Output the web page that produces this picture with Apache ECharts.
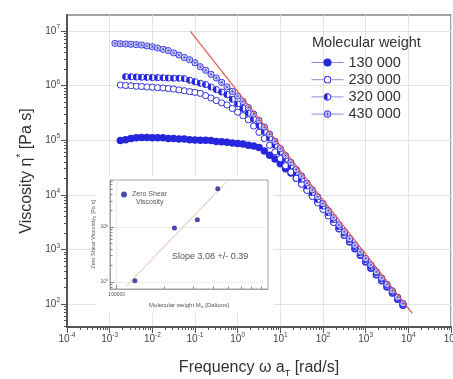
<!DOCTYPE html>
<html><head><meta charset="utf-8">
<script src="https://cdn.jsdelivr.net/npm/echarts@6/dist/echarts.min.js"></script>
<style>html,body{margin:0;padding:0;background:#fff}#c{width:453px;height:379px}</style>
</head><body><div id="c"></div>
<script>
// ---------- data ----------
const frequency = [0.00133, 0.00178, 0.00237, 0.00316, 0.00422, 0.00562, 0.0075,
  0.01, 0.0133, 0.0178, 0.0237, 0.0316, 0.0422, 0.0562, 0.075,
  0.1, 0.133, 0.178, 0.237, 0.316, 0.422, 0.562, 0.75,
  1, 1.33, 1.78, 2.37, 3.16, 4.22, 5.62, 7.5,
  10, 13.3, 17.8, 23.7, 31.6, 42.2, 56.2, 75,
  100, 133, 178, 237, 316, 422, 562, 750,
  1000, 1330, 1780, 2370, 3160, 4220, 5620, 7500];
const eta130k = [null, 9.8e4, 1.02e5, 1.07e5, 1.10e5, 1.12e5, 1.12e5, 1.11e5, 1.10e5, 1.10e5, 1.07e5, 1.07e5, 1.05e5, 1.05e5, 1.02e5, 1.01e5, 1.0e5, 9.9e4, 9.8e4, 9.4e4, 9.3e4, 9.1e4, 8.9e4, 8.7e4, 8.5e4, 8.1e4, 7.8e4, 7.3e4, 6.3e4, 5.3e4, 4.5e4, 3.7e4, 3.0e4, 2.5e4, 2.0e4, 1.59e4, 1.25e4, 9.8e3, 7.7e3, 5.8e3, 4.3e3, 3.2e3, 2.4e3, 1.82e3, 1.36e3, 1.03e3, 780, 590, 450, 344, 267, 206, 159, 123, 95];
const eta230k = [null, 1.02e6, 1.0e6, 9.9e5, 9.7e5, 9.6e5, 9.4e5, 9.3e5, 9.1e5, 9.0e5, 8.8e5, 8.6e5, 8.3e5, 8.0e5, 7.7e5, 7.5e5, 7.2e5, 6.5e5, 5.9e5, 5.3e5, 4.8e5, 4.4e5, 3.8e5, 3.25e5, 2.8e5, 2.36e5, 1.81e5, 1.39e5, 1.07e5, 8.1e4, 6.1e4, 4.6e4, 3.4e4, 2.6e4, 2.0e4, 1.56e4, 1.2e4, 9.3e3, 7.1e3, 5.4e3, 4.1e3, 3.1e3, 2.4e3, 1.83e3, 1.39e3, 1.06e3, 800, 610, 460, 352, 273, 211, 163, 126, 97];
const eta320k = [null, null, 1.45e6, 1.44e6, 1.43e6, 1.42e6, 1.41e6, 1.40e6, 1.39e6, 1.38e6, 1.37e6, 1.36e6, 1.36e6, 1.33e6, 1.25e6, 1.17e6, 1.10e6, 1.04e6, 9.4e5, 8.4e5, 7.6e5, 6.8e5, 5.6e5, 4.6e5, 3.8e5, 3.1e5, 2.4e5, 1.86e5, 1.44e5, 1.09e5, 8.1e4, 6.1e4, 4.5e4, 3.4e4, 2.6e4, 1.93e4, 1.45e4, 1.09e4, 8.2e3, 6.2e3, 4.7e3, 3.5e3, 2.6e3, 1.99e3, 1.5e3, 1.13e3, 860, 650, 490, 376, 288, 221, 169, 130, 100];
const eta430k = [5.9e6, 5.8e6, 5.75e6, 5.7e6, 5.6e6, 5.5e6, 5.3e6, 5.1e6, 4.85e6, 4.6e6, 4.35e6, 3.95e6, 3.6e6, 3.25e6, 2.95e6, 2.6e6, 2.2e6, 1.9e6, 1.6e6, 1.37e6, 1.14e6, 9.4e5, 7.8e5, 6.4e5, 5.1e5, 3.95e5, 3.0e5, 2.3e5, 1.74e5, 1.29e5, 9.5e4, 7.0e4, 5.2e4, 3.9e4, 2.9e4, 2.2e4, 1.64e4, 1.23e4, 9.2e3, 6.9e3, 5.1e3, 3.8e3, 2.8e3, 2.1e3, 1.57e3, 1.19e3, 900, 680, 520, 390, 300, 230, 175, 133, 102];
const seriesNames = ['130 000', '230 000', '320 000', '430 000'];
// power-law guide line (two end points)
const guideFreq = [0.078, 12300];
const guideEta = [9.8e6, 68];
// inset: zero shear viscosity vs molecular weight
const molWeight = [130000, 230000, 320000, 430000];
const zeroShearEta = [1.05e5, 9.6e5, 1.36e6, 5.0e6];
const fitMw = [114000, 490000];
const fitEta = [8.2e4, 6.8e6];
// tick labels (exponents of 10)
const xTickExp = [-4, -3, -2, -1, 0, 1, 2, 3, 4, 5];
const yTickExp = [2, 3, 4, 5, 6, 7];
const insetXTicks = [100000];
const insetYTickExp = [5, 6];

// ---------- helpers ----------
const L = Math.log10;
const FONT = "'Liberation Sans', Arial, Helvetica, sans-serif";
const BLUE = '#2626dc';
const pts = (xs, ys) => xs.map((x, i) => ys[i] == null ? null : [L(x), L(ys[i])]).filter(Boolean);
function minorTicks(n0, n1, lo, hi) {
  const out = [];
  for (let n = n0; n <= n1; n++) for (let k = 2; k <= 9; k++) {
    const v = n + L(k); if (v > lo && v < hi) out.push(v);
  }
  return out;
}
function svgSym(inner) {
  return 'image://data:image/svg+xml;charset=utf-8,' + encodeURIComponent(
    '<svg xmlns="http://www.w3.org/2000/svg" width="40" height="40" viewBox="0 0 20 20">' + inner + '</svg>');
}
const openSym = svgSym(`<circle cx="10" cy="10" r="8.4" fill="#fff" stroke="${BLUE}" stroke-width="2.6"/>`);
const halfSym = svgSym(`<circle cx="10" cy="10" r="8.4" fill="#fff" stroke="${BLUE}" stroke-width="2.4"/><path d="M10,1.6 A8.4,8.4 0 0,0 10,18.4 Z" fill="${BLUE}"/>`);
const crossSym = svgSym(`<circle cx="10" cy="10" r="8.4" fill="#fff" stroke="${BLUE}" stroke-width="2.4"/><path d="M4.6,4.6 L15.4,15.4 M15.4,4.6 L4.6,15.4 M10,2 L10,18 M2,10 L18,10" stroke="${BLUE}" stroke-width="1.3"/>`);

const X_MIN = -4, X_MAX = 5, Y_MIN = 1.58, Y_MAX = 7.29;
const IX_MIN = 4.958, IX_MAX = 5.948, IY_MIN = 4.87, IY_MAX = 6.86;

const tickRich = {
  b: { fontSize: 10, color: '#444', fontFamily: FONT, lineHeight: 14 },
  s: { fontSize: 6.5, color: '#444', fontFamily: FONT, lineHeight: 7, verticalAlign: 'top' }
};
const smallRich = {
  b: { fontSize: 5, color: '#555', fontFamily: FONT, lineHeight: 7 },
  s: { fontSize: 3.5, color: '#555', fontFamily: FONT, lineHeight: 4, verticalAlign: 'top' }
};
const expFmt = v => '{b|10}{s|' + Math.round(v) + '}';

function minorAxis(grid, min, max, pos, vals, len, inside, color) {
  return {
    type: 'value', gridIndex: grid, min, max, position: pos,
    axisLine: { show: false, onZero: false }, splitLine: { show: false },
    axisLabel: { show: false, customValues: vals },
    axisTick: { show: true, customValues: vals, length: len, inside, lineStyle: { color, width: 1 } },
    z: grid === 1 ? 3 : 0
  };
}

function mainSeries(name, ys, symbol) {
  return {
    type: 'line', name, xAxisIndex: 0, yAxisIndex: 0, data: pts(frequency, ys),
    symbol, symbolSize: 7.5, showSymbol: true, lineStyle: { opacity: 0, width: 0 },
    itemStyle: { color: BLUE }, animation: false, silent: true, z: 3
  };
}

const option = {
  backgroundColor: '#fff',
  animation: false,
  grid: [
    { left: 67, right: 2, top: 15, bottom: 52, show: true, borderColor: '#858585', borderWidth: 1.5,
      containLabel: false, outerBoundsMode: 'none' },
    { left: 110, top: 180, width: 158, height: 109, show: true, borderColor: '#a0a0a0', borderWidth: 1, z: 3,
      containLabel: false, outerBoundsMode: 'none' }
  ],
  xAxis: [
    {
      type: 'value', gridIndex: 0, min: X_MIN, max: X_MAX, interval: 1, position: 'bottom',
      axisLine: { show: true, onZero: false, lineStyle: { color: '#555', width: 2 } },
      axisTick: { show: true, length: 6, lineStyle: { color: '#555', width: 1 } },
      axisLabel: { margin: 5, formatter: expFmt, rich: tickRich, showMinLabel: true, showMaxLabel: true },
      splitLine: { show: true, lineStyle: { color: '#e3e3e3', width: 1 } },
      name: '{a|Frequency ω a}{sub|T}{a| [rad/s]}', nameLocation: 'middle', nameGap: 31,
      nameTextStyle: { rich: {
        a: { fontSize: 16, color: '#333', fontFamily: FONT, lineHeight: 20 },
        sub: { fontSize: 9, color: '#333', fontFamily: FONT, lineHeight: 9, verticalAlign: 'bottom' } } }
    },
    minorAxis(0, X_MIN, X_MAX, 'bottom', minorTicks(-4, 4, X_MIN, X_MAX), 3, false, '#555'),
    {
      type: 'value', gridIndex: 1, min: IX_MIN, max: IX_MAX, position: 'bottom', z: 3,
      axisLine: { show: true, onZero: false, lineStyle: { color: '#a0a0a0', width: 1 } },
      axisTick: { show: true, inside: true, length: 4, customValues: insetXTicks.map(L), lineStyle: { color: '#888' } },
      axisLabel: { customValues: insetXTicks.map(L), margin: 3, fontSize: 5, color: '#555', fontFamily: FONT,
        formatter: v => String(Math.round(Math.pow(10, v))) },
      splitLine: { show: true, lineStyle: { color: '#ececec', width: 1 } },
      name: '{a|Molecular weight M}{sub|w}{a| [Daltons]}', nameLocation: 'middle', nameGap: 12,
      nameTextStyle: { rich: {
        a: { fontSize: 6, color: '#555', fontFamily: FONT, lineHeight: 8 },
        sub: { fontSize: 4, color: '#555', fontFamily: FONT, lineHeight: 4, verticalAlign: 'bottom' } } }
    },
    minorAxis(1, IX_MIN, IX_MAX, 'bottom', minorTicks(5, 5, IX_MIN, IX_MAX), 2.5, true, '#888')
  ],
  yAxis: [
    {
      type: 'value', gridIndex: 0, min: Y_MIN, max: Y_MAX, position: 'left',
      axisLine: { show: true, onZero: false, lineStyle: { color: '#555', width: 2 } },
      axisTick: { show: true, length: 6, customValues: yTickExp, lineStyle: { color: '#555', width: 1 } },
      axisLabel: { margin: 7, customValues: yTickExp, formatter: expFmt, rich: tickRich },
      splitLine: { show: true, lineStyle: { color: '#e3e3e3', width: 1 } },
      name: '{a|Viscosity η}{s|*}{a| [Pa s]}', nameLocation: 'middle', nameGap: 30, nameRotate: 90,
      nameTextStyle: { rich: {
        a: { fontSize: 16, color: '#333', fontFamily: FONT, lineHeight: 20 },
        s: { fontSize: 10, color: '#333', fontFamily: FONT, lineHeight: 10, verticalAlign: 'top' } } }
    },
    minorAxis(0, Y_MIN, Y_MAX, 'left', minorTicks(1, 7, Y_MIN, Y_MAX), 3, false, '#555'),
    {
      type: 'value', gridIndex: 1, min: IY_MIN, max: IY_MAX, position: 'left', z: 3,
      axisLine: { show: true, onZero: false, lineStyle: { color: '#a0a0a0', width: 1 } },
      axisTick: { show: true, inside: true, length: 4, customValues: insetYTickExp, lineStyle: { color: '#888' } },
      axisLabel: { customValues: insetYTickExp, margin: 2, formatter: expFmt, rich: smallRich },
      splitLine: { show: true, lineStyle: { color: '#ececec', width: 1 } },
      name: '{a|Zero Shear Viscosity}{sub|0}{a| [Pa s]}', nameLocation: 'middle', nameGap: 11, nameRotate: 90,
      nameTextStyle: { rich: {
        a: { fontSize: 5.5, color: '#555', fontFamily: FONT, lineHeight: 7 },
        sub: { fontSize: 4, color: '#555', fontFamily: FONT, lineHeight: 4, verticalAlign: 'bottom' } } }
    },
    minorAxis(1, IY_MIN, IY_MAX, 'left', minorTicks(4, 6, IY_MIN, IY_MAX), 2.5, true, '#888')
  ],
  legend: [
    {
      data: seriesNames, orient: 'vertical', left: 306, top: 50, itemWidth: 32, itemHeight: 10, itemGap: 2.2,
      selectedMode: false, textStyle: { fontSize: 14.5, color: '#333', fontFamily: FONT },
      lineStyle: { color: '#8a90c8', width: 1, opacity: 1 }
    },
    {
      data: ['Zero Shear Viscosity'], left: 116, top: 186, itemWidth: 6, itemHeight: 6, selectedMode: false,
      formatter: () => 'Zero Shear', textStyle: { fontSize: 7, color: '#555', fontFamily: FONT }, z: 5
    }
  ],
  graphic: [
    { type: 'rect', shape: { x: 96, y: 176, width: 178, height: 137 }, style: { fill: '#fff' }, z: 1, silent: true },
    { type: 'text', x: 312, y: 35, z: 5, style: { text: 'Molecular weight', fontSize: 14.5, fill: '#333', fontFamily: FONT } },
    { type: 'text', x: 136, y: 199, z: 5, style: { text: 'Viscosity', fontSize: 7, fill: '#555', fontFamily: FONT } },
    { type: 'text', x: 172, y: 252, z: 5, style: { text: 'Slope 3.08 +/- 0.39', fontSize: 9, fill: '#555', fontFamily: FONT } }
  ],
  series: [
    mainSeries(seriesNames[0], eta130k, 'circle'),
    mainSeries(seriesNames[1], eta230k, openSym),
    mainSeries(seriesNames[2], eta320k, halfSym),
    mainSeries(seriesNames[3], eta430k, crossSym),
    {
      type: 'line', name: 'guide', xAxisIndex: 0, yAxisIndex: 0, data: pts(guideFreq, guideEta),
      symbol: 'none', lineStyle: { color: '#e4574f', width: 1.2 }, z: 6, silent: true
    },
    {
      type: 'line', name: 'fit', xAxisIndex: 2, yAxisIndex: 2, data: pts(fitMw, fitEta),
      symbol: 'none', lineStyle: { color: '#f3b79f', width: 1 }, z: 5, silent: true
    },
    {
      type: 'scatter', name: 'Zero Shear Viscosity', xAxisIndex: 2, yAxisIndex: 2, data: pts(molWeight, zeroShearEta),
      symbol: 'circle', symbolSize: 5, itemStyle: { color: '#1b1b95' }, z: 6, silent: true
    }
  ]
};
const chart = echarts.init(document.getElementById('c'), null, { renderer: 'canvas' });
chart.setOption(option);
</script>
</body></html>
